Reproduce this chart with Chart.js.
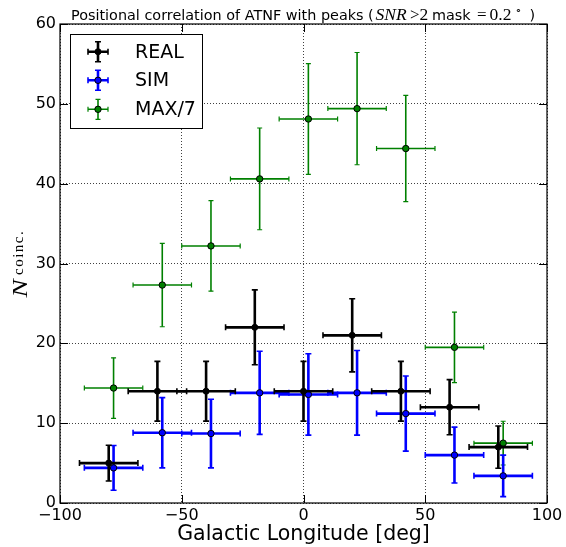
<!DOCTYPE html>
<html><head><meta charset="utf-8">
<script src="https://cdn.jsdelivr.net/npm/chart.js@4/dist/chart.umd.min.js"></script>
<style>html,body{margin:0;padding:0;background:#fff;overflow:hidden}</style>
</head><body>
<canvas id="c" width="566" height="547"></canvas>
<script>
// ---- data ----
const realX    = [-80, -60, -40, -20, 0, 20, 40, 60, 80];
const realY    = [5, 14, 14, 22, 14, 21, 14, 12, 7];
const realXErr = [12, 12, 12, 12, 12, 12, 12, 12, 12];
const realYErr = [2.24, 3.74, 3.74, 4.69, 3.74, 4.58, 3.74, 3.46, 2.65];

const simX    = [-78, -58, -38, -18, 2, 22, 42, 62, 82];
const simY    = [4.4, 8.8, 8.7, 13.8, 13.6, 13.8, 11.2, 6.0, 3.4];
const simXErr = [12, 12, 12, 12, 12, 12, 12, 12, 12];
const simYErr = [2.8, 4.4, 4.3, 5.2, 5.1, 5.3, 4.7, 3.5, 2.6];

const maxX    = [-78, -58, -38, -18, 2, 22, 42, 62, 82];
const maxY    = [14.4, 27.3, 32.2, 40.6, 48.1, 49.4, 44.4, 19.5, 7.5];
const maxXErr = [12, 12, 12, 12, 12, 12, 12, 12, 12];
const maxYErr = [3.79, 5.22, 5.67, 6.37, 6.94, 7.03, 6.66, 4.42, 2.74];

const seriesLabels = ['REAL', 'SIM', 'MAX/7'];
const xTicks = [-100, -50, 0, 50, 100];
const yTicks = [0, 10, 20, 30, 40, 50, 60];
const titleText = 'Positional correlation of ATNF with peaks (';
const xLabel = 'Galactic Longitude [deg]';

const pts = (xs, ys) => xs.map((x, i) => ({x: x, y: ys[i]}));
const fmt = v => String(v).replace('-', '\u2212');

const SANS = '"DejaVu Sans"';
const SERIF = '"Liberation Serif"';

const errPlugin = {
  id: 'err',
  beforeDatasetDraw(chart, args) {
    const ds = chart.data.datasets[args.index];
    const xs = chart.scales.x, ys = chart.scales.y, ctx = chart.ctx;
    ctx.save();
    ctx.strokeStyle = ds.errColor;
    ds.data.forEach((p, i) => {
      const px = xs.getPixelForValue(p.x), py = ys.getPixelForValue(p.y);
      const x0 = xs.getPixelForValue(p.x - ds.xErr[i]), x1 = xs.getPixelForValue(p.x + ds.xErr[i]);
      const y0 = ys.getPixelForValue(p.y - ds.yErr[i]), y1 = ys.getPixelForValue(p.y + ds.yErr[i]);
      ctx.lineWidth = ds.errWidth;
      ctx.beginPath();
      ctx.moveTo(x0, py); ctx.lineTo(x1, py);
      ctx.moveTo(px, y0); ctx.lineTo(px, y1);
      ctx.stroke();
      const c = ds.cap;
      ctx.lineWidth = ds.capWidth;
      ctx.beginPath();
      ctx.moveTo(x0, py - c); ctx.lineTo(x0, py + c);
      ctx.moveTo(x1, py - c); ctx.lineTo(x1, py + c);
      ctx.moveTo(px - c, y0); ctx.lineTo(px + c, y0);
      ctx.moveTo(px - c, y1); ctx.lineTo(px + c, y1);
      ctx.stroke();
    });
    ctx.restore();
  }
};

const framePlugin = {
  id: 'frame',
  afterDraw(chart) {
    const ctx = chart.ctx, a = chart.chartArea;
    const xs = chart.scales.x, ys = chart.scales.y;
    ctx.save();
    // frame
    ctx.strokeStyle = '#000';
    ctx.lineWidth = 1.2;
    ctx.strokeRect(a.left, a.top, a.right - a.left, a.bottom - a.top);
    // inward ticks on all sides
    const tl = 8;
    ctx.lineWidth = 1;
    ctx.beginPath();
    xTicks.forEach(v => {
      const p = Math.round(xs.getPixelForValue(v)) + 0.5;
      ctx.moveTo(p, a.bottom); ctx.lineTo(p, a.bottom - tl);
      ctx.moveTo(p, a.top); ctx.lineTo(p, a.top + tl);
    });
    yTicks.forEach(v => {
      const p = Math.round(ys.getPixelForValue(v)) + 0.5;
      ctx.moveTo(a.left, p); ctx.lineTo(a.left + tl, p);
      ctx.moveTo(a.right, p); ctx.lineTo(a.right - tl, p);
    });
    ctx.stroke();

    // title (mixed sans text and serif math)
    ctx.fillStyle = '#000';
    ctx.textBaseline = 'alphabetic';
    ctx.textAlign = 'left';
    const tb = 20;
    const tsegs = [
      {t: titleText, f: '14.4px ' + SANS, x: 71},
      {t: 'SNR', f: 'italic 17.5px ' + SERIF, x: 375.5},
      {t: '>', f: '17px ' + SERIF, x: 410},
      {t: '2', f: '17.5px ' + SERIF, x: 419.5},
      {t: 'mask', f: '14.4px ' + SANS, x: 432},
      {t: '=', f: '17px ' + SERIF, x: 477},
      {t: '0.2', f: '17.5px ' + SERIF, x: 489.5},
      {t: '\u2218', f: '11px ' + SERIF, x: 514.5, dy: -6},
      {t: ')', f: '14.4px ' + SANS, x: 529.5}
    ];
    tsegs.forEach(s => { ctx.font = s.f; ctx.fillText(s.t, s.x, tb + (s.dy || 0)); });

    // y label N_coinc.
    ctx.save();
    ctx.translate(26.7, 0);
    ctx.rotate(-Math.PI / 2);
    ctx.save();
    ctx.translate(-297.5, 0);
    ctx.scale(1.3, 1);
    ctx.font = 'italic 21px ' + SERIF;
    ctx.fillText('N', 0, 0);
    ctx.restore();
    ctx.font = '15px ' + SERIF;
    try { ctx.letterSpacing = '1.5px'; } catch (e) {}
    ctx.fillText('coinc.', -275, -3.5);
    try { ctx.letterSpacing = '0px'; } catch (e) {}
    ctx.restore();

    // legend
    const lx = 70.5, ly = 34.5, lw = 132, lh = 94;
    ctx.fillStyle = '#fff';
    ctx.fillRect(lx, ly, lw, lh);
    ctx.strokeStyle = '#000';
    ctx.lineWidth = 1;
    ctx.strokeRect(lx, ly, lw, lh);
    const rows = [51.7, 80.3, 109.3];
    chart.data.datasets.forEach((ds, i) => {
      const cy = rows[i], cx = 98;
      ctx.strokeStyle = ds.errColor;
      ctx.lineWidth = ds.errWidth;
      ctx.beginPath();
      ctx.moveTo(cx - 10, cy); ctx.lineTo(cx + 10, cy);
      ctx.moveTo(cx, cy - 10); ctx.lineTo(cx, cy + 10);
      ctx.stroke();
      ctx.lineWidth = ds.capWidth;
      const c = ds.cap;
      ctx.beginPath();
      ctx.moveTo(cx - 10, cy - c); ctx.lineTo(cx - 10, cy + c);
      ctx.moveTo(cx + 10, cy - c); ctx.lineTo(cx + 10, cy + c);
      ctx.moveTo(cx - c, cy - 10); ctx.lineTo(cx + c, cy - 10);
      ctx.moveTo(cx - c, cy + 10); ctx.lineTo(cx + c, cy + 10);
      ctx.stroke();
      ctx.beginPath();
      ctx.arc(cx, cy, ds.pointRadius, 0, Math.PI * 2);
      ctx.fillStyle = ds.pointBackgroundColor;
      ctx.fill();
      ctx.lineWidth = ds.pointBorderWidth;
      ctx.strokeStyle = ds.pointBorderColor;
      ctx.stroke();
      ctx.fillStyle = '#000';
      ctx.font = '19px ' + SANS;
      ctx.textBaseline = 'middle';
      ctx.fillText(ds.label, 135, cy + 1);
    });
    ctx.restore();
  }
};

new Chart(document.getElementById('c'), {
  type: 'scatter',
  data: {
    datasets: [
      {label: seriesLabels[0], data: pts(realX, realY), xErr: realXErr, yErr: realYErr,
       errColor: '#000', errWidth: 2.6, capWidth: 1.6, cap: 3,
       pointRadius: 3, pointBackgroundColor: '#000', pointBorderColor: '#000', pointBorderWidth: 1},
      {label: seriesLabels[1], data: pts(simX, simY), xErr: simXErr, yErr: simYErr,
       errColor: '#0000ff', errWidth: 2.6, capWidth: 1.6, cap: 3,
       pointRadius: 3.2, pointBackgroundColor: '#0000ff', pointBorderColor: '#000', pointBorderWidth: 1},
      {label: seriesLabels[2], data: pts(maxX, maxY), xErr: maxXErr, yErr: maxYErr,
       errColor: '#008000', errWidth: 1.6, capWidth: 1.2, cap: 2.5,
       pointRadius: 3.2, pointBackgroundColor: '#008000', pointBorderColor: '#000', pointBorderWidth: 1}
    ]
  },
  options: {
    responsive: false,
    animation: false,
    devicePixelRatio: 1,
    layout: {padding: {top: 24, right: 19, left: 0, bottom: 0}},
    plugins: {legend: {display: false}, tooltip: {enabled: false}, title: {display: false}},
    elements: {point: {hoverRadius: 3}},
    scales: {
      x: {
        type: 'linear', min: -100, max: 100,
        afterBuildTicks: s => { s.ticks = xTicks.map(v => ({value: v})); },
        afterFit: s => { s.height = 44; },
        ticks: {callback: v => fmt(v), color: '#000', padding: 3, maxRotation: 0,
                font: {family: 'DejaVu Sans', size: 16}},
        grid: {color: 'rgba(0,0,0,0.75)', lineWidth: 1, drawTicks: false, tickLength: 0},
        border: {display: false, dash: [1, 2]},
        title: {display: true, text: xLabel, color: '#000', padding: {top: 1, bottom: 0},
                font: {family: 'DejaVu Sans', size: 20.5}}
      },
      y: {
        type: 'linear', min: 0, max: 60,
        afterBuildTicks: s => { s.ticks = yTicks.map(v => ({value: v})); },
        afterFit: s => { s.width = 60; },
        ticks: {callback: v => fmt(v), color: '#000', padding: 4,
                font: {family: 'DejaVu Sans', size: 16}},
        grid: {color: 'rgba(0,0,0,0.75)', lineWidth: 1, drawTicks: false, tickLength: 0},
        border: {display: false, dash: [1, 2]}
      }
    }
  },
  plugins: [errPlugin, framePlugin]
});
</script>
</body></html>
